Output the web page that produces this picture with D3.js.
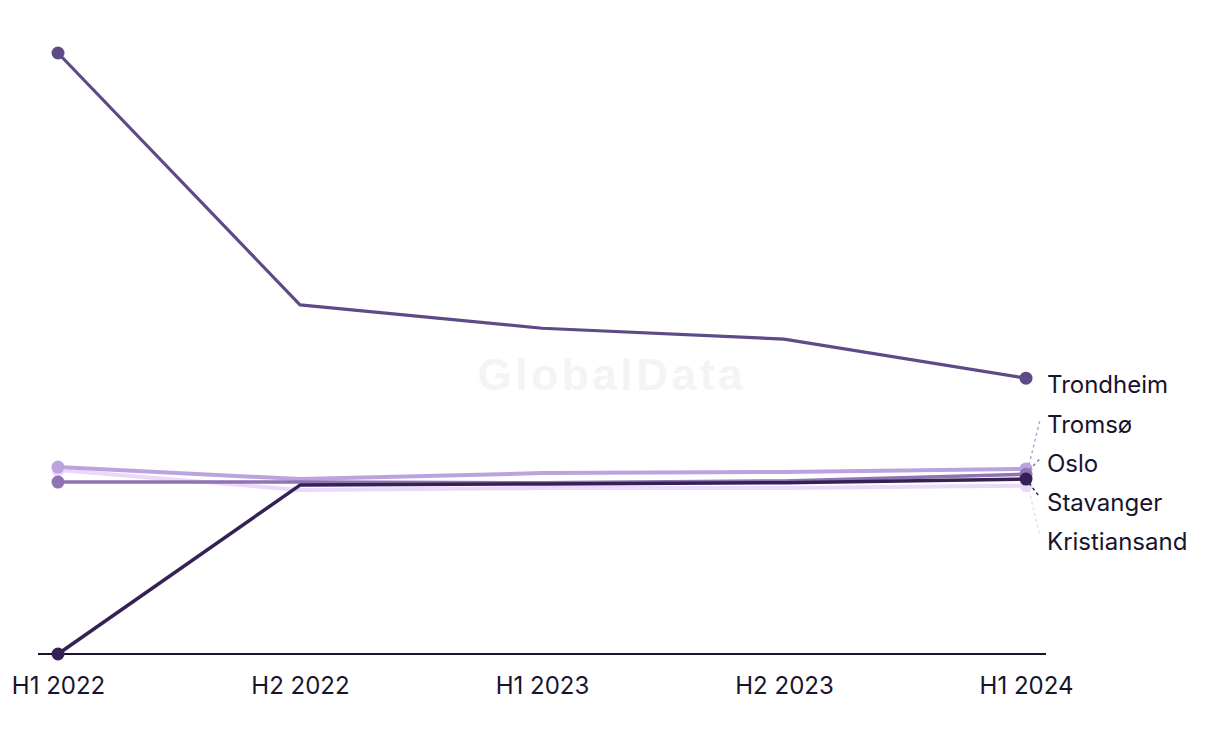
<!DOCTYPE html>
<html>
<head>
<meta charset="utf-8">
<script src="https://cdn.jsdelivr.net/npm/d3@7"></script>
<style>
  html, body { margin: 0; padding: 0; background: #ffffff; }
  svg { display: block; }
</style>
</head>
<body>
<svg id="chart" width="1220" height="744"></svg>
<script>
const periods = ["H1 2022", "H2 2022", "H1 2023", "H2 2023", "H1 2024"];
const seriesNames = ["Kristiansand", "Tromsø", "Oslo", "Stavanger", "Trondheim"];
const kristiansand = [30.6, 27.3, 27.6, 27.6, 28.0];
const tromso       = [31.1, 29.1, 30.1, 30.3, 30.8];
const oslo         = [28.6, 28.6, 28.5, 28.8, 29.9];
const stavanger    = [0.0, 28.1, 28.3, 28.5, 29.1];
const trondheim    = [100.0, 58.1, 54.2, 52.4, 45.9];
const seriesValues = [kristiansand, tromso, oslo, stavanger, trondheim];
const seriesColors = ["#ecd8fb", "#bca3e0", "#8e74b2", "#352155", "#5e4a86"];
const seriesWidths = [4, 4, 3.5, 3.5, 3.2];

const W = 1220, H = 744;
const svg = d3.select("#chart");
const FONT = "Inter, 'Noto Sans', sans-serif";
const TEXT = "#18142e";

const x = d3.scalePoint().domain(periods).range([58, 1026]);
const y = d3.scaleLinear().domain([0, 100]).range([654, 53]);

// watermark
svg.append("text")
  .attr("x", 610).attr("y", 374)
  .attr("text-anchor", "middle").attr("dominant-baseline", "central")
  .attr("font-family", "'Liberation Sans', Arial, sans-serif")
  .attr("font-weight", "bold").attr("font-size", 44)
  .attr("textLength", 265).attr("lengthAdjust", "spacing")
  .attr("fill", "#f4f4f4")
  .text("GlobalData");

// axis baseline
const xAxis = d3.axisBottom(x).tickSize(0).tickPadding(23);
const gx = svg.append("g").attr("transform", `translate(0,${y(0)})`).call(xAxis);
gx.select(".domain").attr("d", `M38,0H1046`).attr("stroke", TEXT).attr("stroke-width", 2);
gx.selectAll(".tick text")
  .attr("font-family", FONT).attr("font-size", 24).attr("fill", TEXT);

const series = seriesNames.map((name, i) => ({
  name, values: seriesValues[i], color: seriesColors[i], width: seriesWidths[i]
}));

const line = d3.line().x((d, i) => x(periods[i])).y(d => y(d));

const g = svg.append("g");
series.forEach(s => {
  g.append("path")
    .attr("d", line(s.values))
    .attr("fill", "none")
    .attr("stroke", s.color)
    .attr("stroke-width", s.width)
    .attr("stroke-linejoin", "round");
});
series.forEach(s => {
  g.append("circle").attr("cx", x(periods[0])).attr("cy", y(s.values[0])).attr("r", 6.5).attr("fill", s.color);
  g.append("circle").attr("cx", x(periods[periods.length-1])).attr("cy", y(s.values[s.values.length-1])).attr("r", 6.5).attr("fill", s.color);
});

// end labels with collision avoidance
const last = periods.length - 1;
const labels = series.map(s => ({
  name: s.name, color: s.color, dotY: y(s.values[last]), ly: y(s.values[last]) + 6
})).sort((a, b) => a.dotY - b.dotY);
const gap = 38.7;
for (let iter = 0; iter < 200; iter++) {
  let moved = false;
  for (let i = 1; i < labels.length; i++) {
    const d = labels[i].ly - labels[i-1].ly;
    if (d < gap) {
      const push = (gap - d) / 2;
      labels[i].ly += push; labels[i-1].ly -= push; moved = true;
    }
  }
  if (!moved) break;
}
const lx = x(periods[last]) + 21;
labels.forEach(l => {
  if (Math.abs(l.ly - 6 - l.dotY) > 8) {
    svg.append("line")
      .attr("x1", x(periods[last]) + 3).attr("y1", l.dotY + (l.ly > l.dotY ? 4 : -4))
      .attr("x2", lx - 7).attr("y2", l.ly - 5)
      .attr("stroke", l.color).attr("stroke-width", 1.5)
      .attr("stroke-dasharray", "3,3");
  }
  svg.append("text")
    .attr("x", lx).attr("y", l.ly)
    .attr("dominant-baseline", "central")
    .attr("font-family", FONT).attr("font-size", 24).attr("fill", TEXT)
    .text(l.name);
});
</script>
</body>
</html>
